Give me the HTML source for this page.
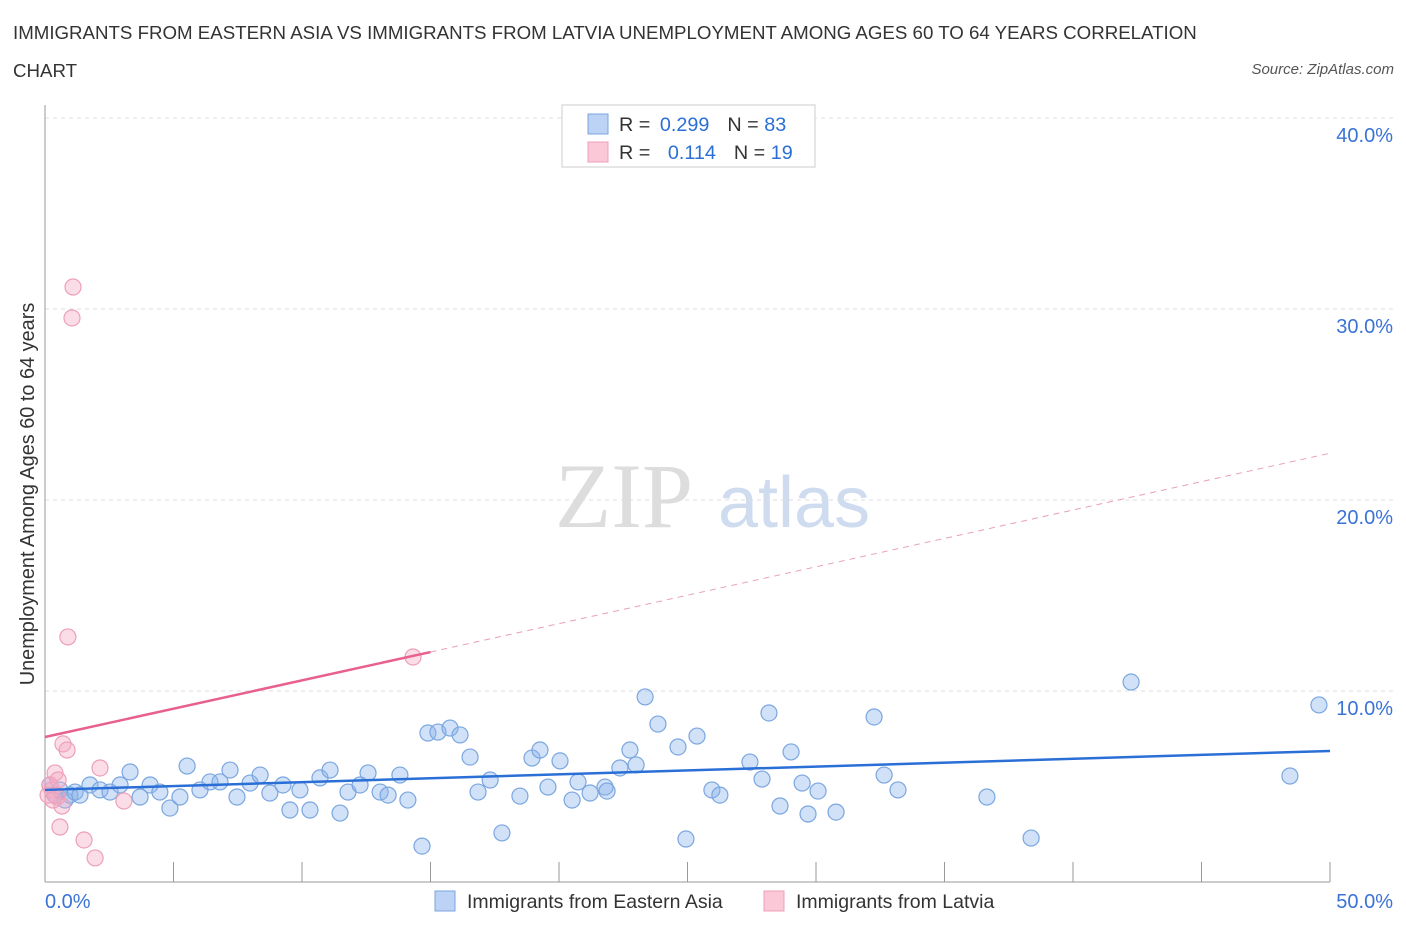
<!DOCTYPE html>
<html><head><meta charset="utf-8"><style>
body{margin:0;background:#fff;font-family:"Liberation Sans",sans-serif;}
#c{position:relative;width:1406px;height:930px;overflow:hidden}
.t{position:absolute;color:#333;font-size:18.7px}
</style></head><body>
<div id="c">
<div class="t" style="left:13px;top:22px">IMMIGRANTS FROM EASTERN ASIA VS IMMIGRANTS FROM LATVIA UNEMPLOYMENT AMONG AGES 60 TO 64 YEARS CORRELATION</div>
<div class="t" style="left:13px;top:60px">CHART</div>
<div class="t" style="right:12px;top:61px;font-size:15px;font-style:italic;color:#555">Source: ZipAtlas.com</div>
<svg id="s" width="1406" height="930" style="position:absolute;left:0;top:0"></svg>
</div>
<script>
const blueX=[0.19,0.39,0.58,0.78,0.97,1.17,1.36,1.75,2.14,2.53,2.92,3.31,3.70,4.09,4.47,4.86,5.25,5.53,6.03,6.42,6.81,7.20,7.47,7.98,8.37,8.75,9.26,9.53,9.92,10.31,10.70,11.09,11.48,11.79,12.26,12.57,13.04,13.35,13.81,14.12,14.67,14.90,15.29,15.76,16.15,16.54,16.85,17.32,17.78,18.48,18.95,19.26,19.57,20.04,20.51,20.74,21.21,21.79,21.87,22.37,22.76,23.00,23.35,23.85,24.63,24.94,25.37,25.95,26.26,27.43,27.90,28.17,28.60,29.03,29.46,29.69,30.08,30.78,32.26,32.65,33.19,36.65,38.37,42.26,48.44,49.57];
const blueY=[5.08,4.55,4.82,4.29,4.55,4.71,4.55,5.08,4.82,4.71,5.08,5.76,4.45,5.08,4.71,3.87,4.45,6.07,4.82,5.24,5.24,5.86,4.45,5.18,5.60,4.66,5.08,3.77,4.82,3.77,5.45,5.86,3.61,4.71,5.08,5.71,4.71,4.55,5.60,4.29,1.88,7.80,7.85,8.06,7.70,6.54,4.71,5.34,2.57,4.50,6.49,6.91,4.97,6.34,4.29,5.24,4.66,4.97,4.76,5.97,6.91,6.13,9.69,8.27,7.07,2.25,7.64,4.82,4.55,6.28,5.39,8.85,3.98,6.81,5.18,3.56,4.76,3.66,8.64,5.60,4.82,4.45,2.30,10.47,5.55,9.27];
const pinkX=[0.19,0.27,0.39,0.47,0.58,0.66,0.70,0.86,0.89,1.05,1.09,1.52,1.95,2.14,3.07,14.32,0.12,0.31,0.51];
const pinkY=[5.08,4.82,5.71,4.45,2.88,3.98,7.23,6.91,12.83,29.53,31.15,2.20,1.26,5.97,4.24,11.78,4.55,4.29,5.34];
const yTicks=[10,20,30,40];
const yTickLabels=["10.0%","20.0%","30.0%","40.0%"];
const blueTrend=[[0,4.82],[50,6.86]];
const pinkTrend=[[0,7.59],[15,12.04]];
const pinkDash=[[15,12.04],[50,22.45]];
const X=v=>45+v*25.7, Y=v=>882-v*19.1;
const s=document.getElementById('s');const NS='http://www.w3.org/2000/svg';
function mk(t,a,p){const e=document.createElementNS(NS,t);for(const k in a)e.setAttribute(k,a[k]);(p||s).appendChild(e);return e;}
let w=mk('text',{x:555,y:527,'font-size':92,'font-family':'Liberation Serif',fill:'#ddd'});w.textContent='ZIP';

w=mk('text',{x:718,y:527,'font-size':72,'font-family':'Liberation Sans',fill:'#cfdcf0'});w.textContent='atlas';

yTicks.forEach((v,i)=>{let g=mk('line',{x1:45,x2:1393,y1:Y(v),y2:Y(v),stroke:'#ddd','stroke-dasharray':'4,4'});

let t=mk('text',{x:1393,y:Y(v)+24,'text-anchor':'end','font-size':20,fill:'#3a73d6'});t.textContent=yTickLabels[i];
});
let a=mk('line',{x1:45,x2:45,y1:105,y2:882,stroke:'#999'});
a=mk('line',{x1:45,x2:1330,y1:882,y2:882,stroke:'#999'});
for(let i=0;i<=10;i++){let t=mk('line',{x1:X(i*5),x2:X(i*5),y1:862,y2:882,stroke:'#999'});}
[['0.0%',45,'start'],['50.0%',1393,'end']].forEach(d=>{let t=mk('text',{x:d[1],y:908,'text-anchor':d[2],'font-size':20,fill:'#3a73d6'});t.textContent=d[0];});
let yt=mk('text',{x:34,y:494,transform:'rotate(-90 34 494)','text-anchor':'middle','font-size':19.9,fill:'#333'});yt.textContent='Unemployment Among Ages 60 to 64 years';

blueX.forEach((x,i)=>{let c=mk('circle',{cx:X(x),cy:Y(blueY[i]),r:8,fill:'rgba(140,180,235,0.4)',stroke:'#7aa6e0','stroke-width':1.2});
});
pinkX.forEach((x,i)=>{let c=mk('circle',{cx:X(x),cy:Y(pinkY[i]),r:8,fill:'rgba(245,170,195,0.4)',stroke:'#eda0b8','stroke-width':1.2});
});
let l=mk('line',{x1:X(blueTrend[0][0]),y1:Y(blueTrend[0][1]),x2:X(blueTrend[1][0]),y2:Y(blueTrend[1][1]),stroke:'#2a6fd6','stroke-width':2.5});

l=mk('line',{x1:X(pinkTrend[0][0]),y1:Y(pinkTrend[0][1]),x2:X(pinkTrend[1][0]),y2:Y(pinkTrend[1][1]),stroke:'#e8608c','stroke-width':2.5});

l=mk('line',{x1:X(pinkDash[0][0]),y1:Y(pinkDash[0][1]),x2:X(pinkDash[1][0]),y2:Y(pinkDash[1][1]),stroke:'#e8a0b8','stroke-width':1,'stroke-dasharray':'6,5'});

let lb=mk('rect',{x:562,y:105,width:253,height:62,fill:'#fff',stroke:'#ccc'});
[[0,'#bcd3f5','#7aa6e0','0.299','83'],[1,'#fac8d6','#eda0b8','0.114','19']].forEach(d=>{const y=114+d[0]*28;
let r=mk('rect',{x:588,y:y,width:20,height:20,fill:d[1],stroke:d[2]});
let t=mk('text',{x:619,y:y+17,'font-size':19.8,fill:'#333'});t.innerHTML='R = <tspan fill="#2a6fd6" dx="'+(d[0]?12:4)+'">'+d[3]+'</tspan><tspan dx="18">N = </tspan><tspan fill="#2a6fd6">'+d[4]+'</tspan>';
});
[[435,'#bcd3f5','#7aa6e0','Immigrants from Eastern Asia'],[764,'#fac8d6','#eda0b8','Immigrants from Latvia']].forEach(d=>{
let r=mk('rect',{x:d[0],y:891,width:20,height:20,fill:d[1],stroke:d[2]});
let t=mk('text',{x:d[0]+32,y:908,'font-size':19.5,fill:'#333'});t.textContent=d[3];});
</script>
</body></html>
